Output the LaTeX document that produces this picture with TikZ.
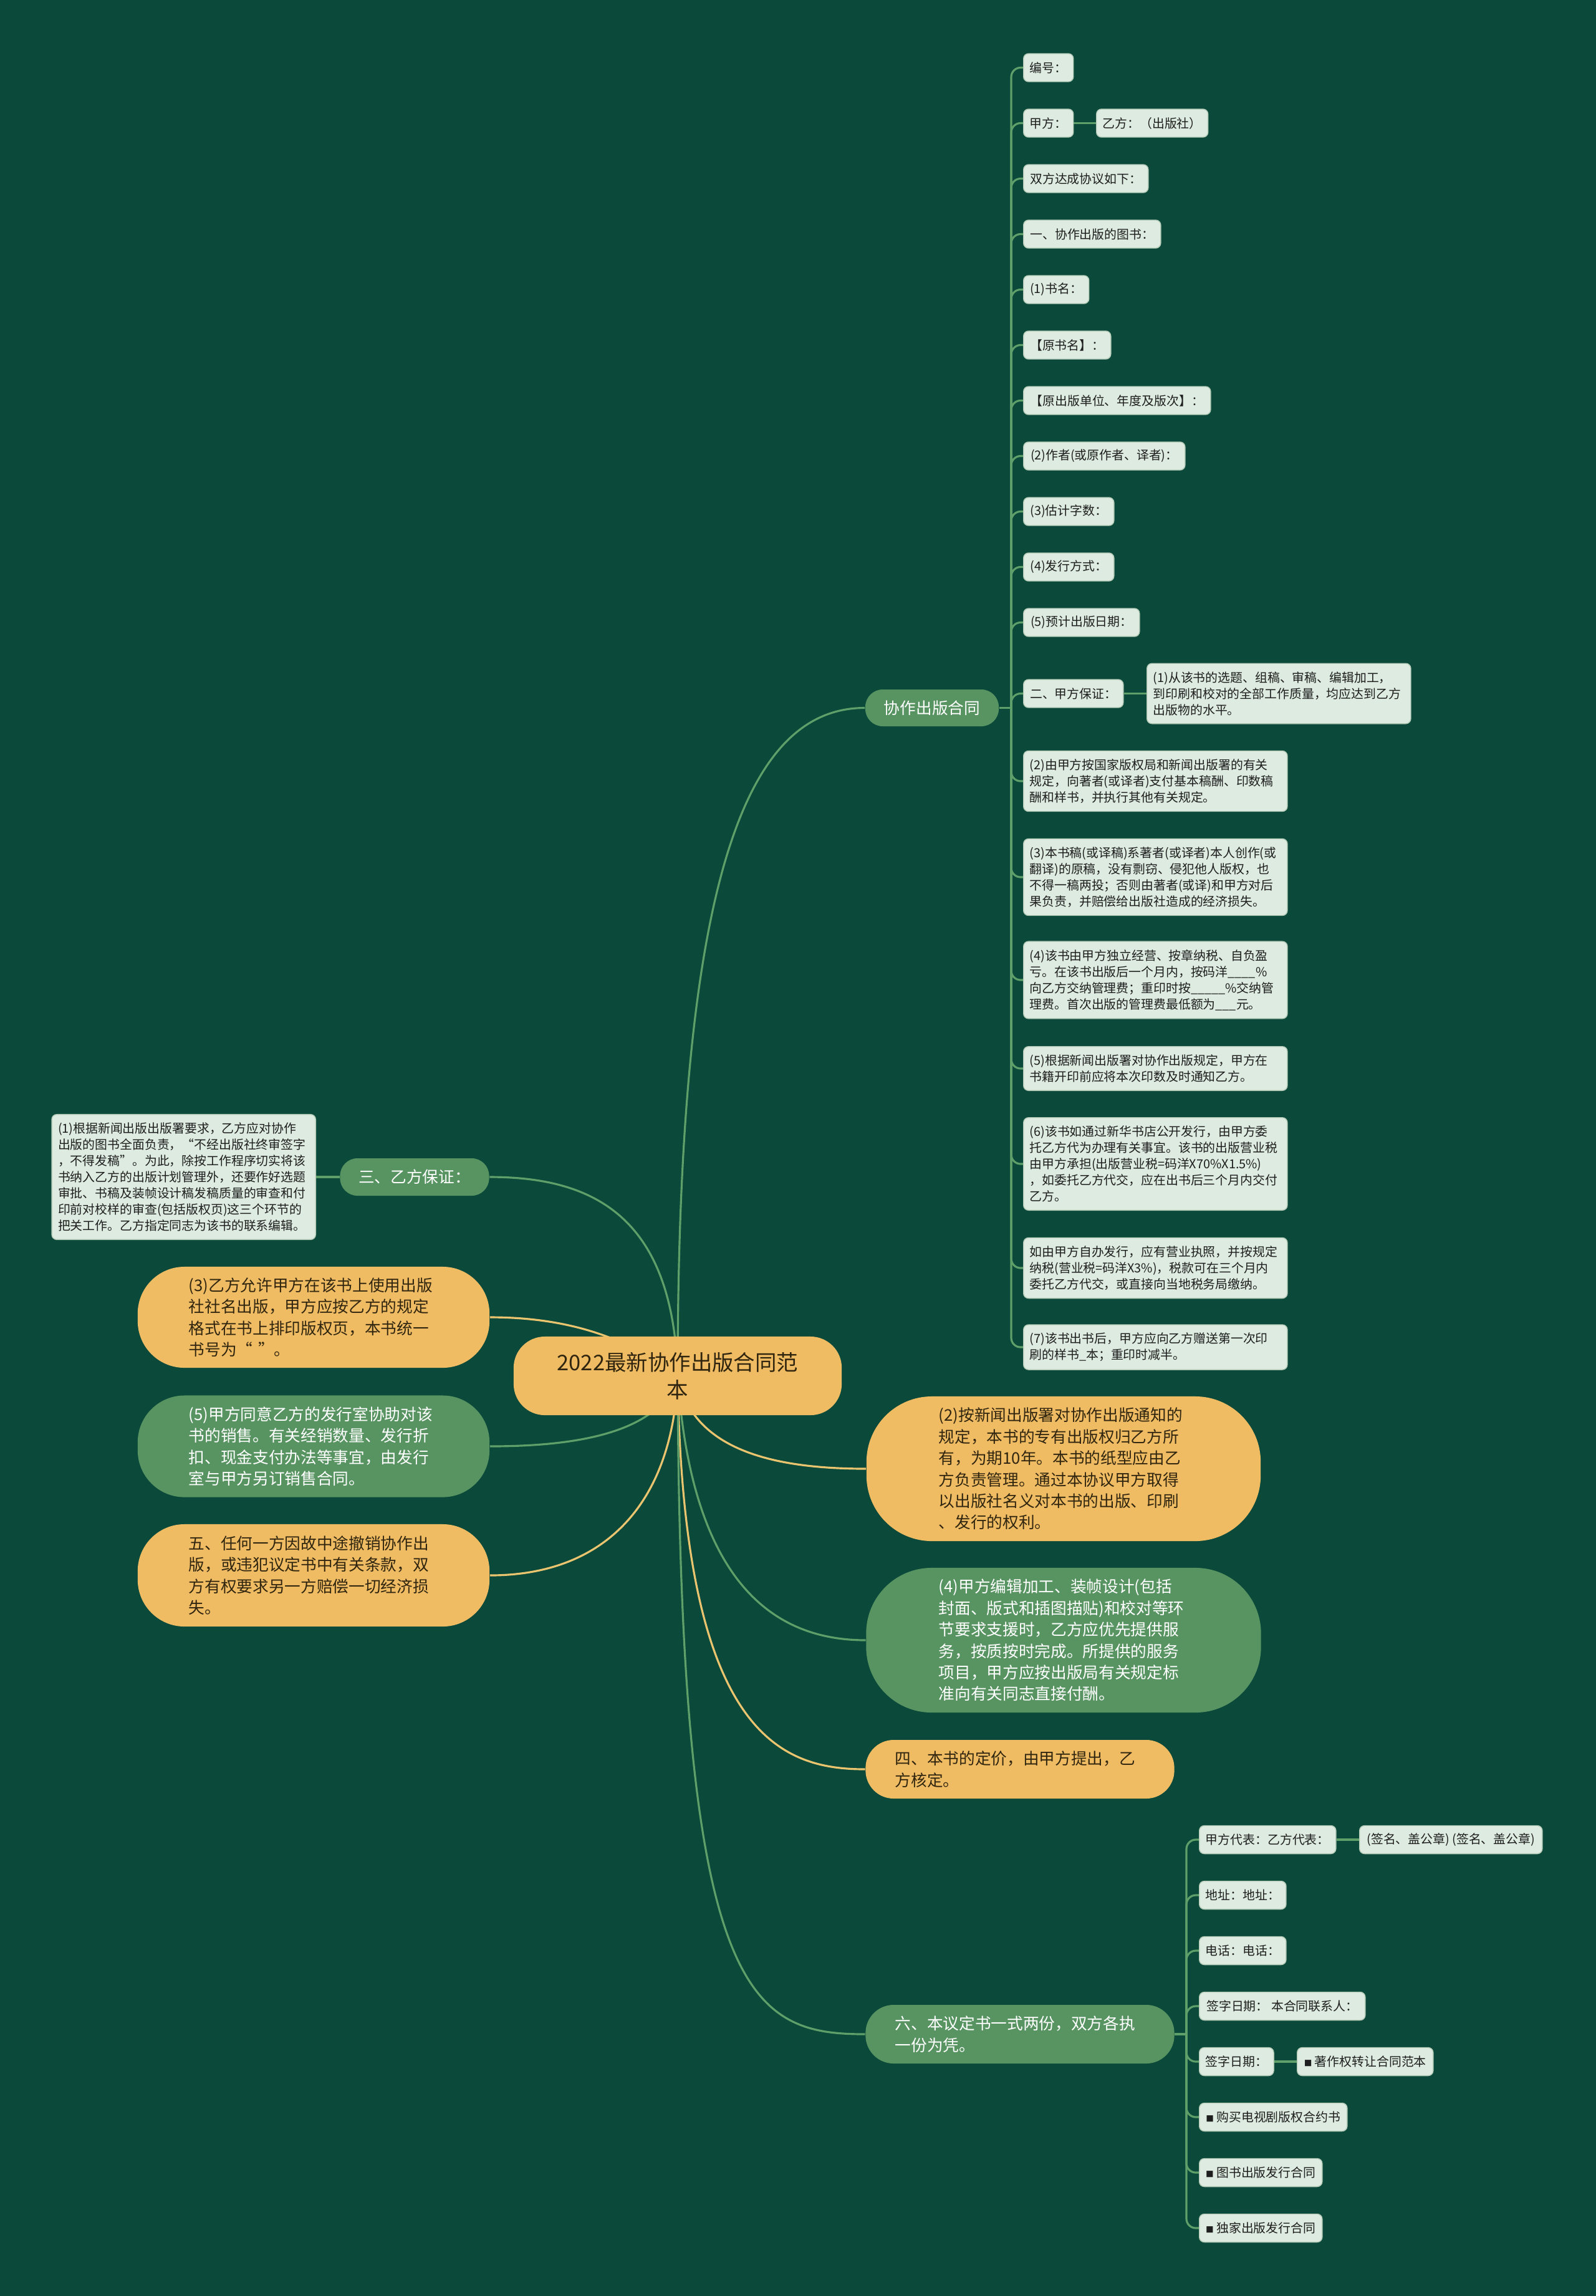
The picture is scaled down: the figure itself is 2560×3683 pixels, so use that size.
\documentclass[tikz,border=0pt]{standalone}
\usepackage{fontspec}
\newfontfamily\cjk{Noto Sans CJK SC}
\definecolor{bgc}{HTML}{0B4A3A}
\definecolor{gfill}{HTML}{579461}
\definecolor{ofill}{HTML}{F0BC63}
\definecolor{lfill}{HTML}{DDEBE0}
\definecolor{lbord}{HTML}{B5CBB8}
\definecolor{glinec}{HTML}{5F9F69}
\definecolor{ylinec}{HTML}{EAC46E}
\definecolor{otext}{HTML}{30250F}
\definecolor{ltext}{HTML}{1E1E1E}
\pgfdeclarelayer{bg}
\pgfsetlayers{bg,main}
\newcommand{\sqb}{{\fontsize{3.6}{3.6}\selectfont■}}
\tikzset{
  sbox/.style={draw=lbord, line width=0.4pt, fill=lfill, rounded corners=0.08cm,
    font=\cjk\fontsize{5.65}{7.4}\selectfont, text=ltext, inner xsep=0.1cm, inner ysep=0pt,
    minimum height=0.45cm, anchor=west},
  mbox/.style={sbox, text width=4.03cm, align=left, inner ysep=0.13cm},
  pillbase/.style={font=\cjk\fontsize{7.3}{9.8}\selectfont, inner sep=0pt},
  obig/.style={pillbase, fill=ofill, text=otext, text width=4.0cm, align=left},
  gbig/.style={pillbase, fill=gfill, text=white, text width=4.0cm, align=left},
  gpill/.style={pillbase, fill=gfill, text=white, align=center},
  rootn/.style={fill=ofill, text=otext, font=\cjk\fontsize{9.8}{12.6}\selectfont, align=center,
    inner sep=0pt, minimum width=5.26cm, minimum height=1.26cm, rounded corners=0.5cm},
  gl/.style={draw=glinec, line width=0.9pt},
  yl/.style={draw=ylinec, line width=0.9pt},
}
\begin{document}
\begin{tikzpicture}[x=0.01cm,y=-0.01cm]
\begin{pgfonlayer}{bg}
\fill[bgc] (0,0) rectangle (2560,3683);
\end{pgfonlayer}
\useasboundingbox (0,0) rectangle (2560,3683);

% root
\node[rootn] (root) at (1087,2207) {2022最新协作出版合同范\\本};

% main branches
\node[gpill, minimum width=2.14cm, minimum height=0.59cm, rounded corners=0.28cm] (xz) at (1495,1135.5) {协作出版合同};
\node[gpill, minimum width=2.39cm, minimum height=0.60cm, rounded corners=0.28cm] (san) at (665,1888) {三、乙方保证：};
\node[obig, minimum width=5.64cm, minimum height=1.62cm, rounded corners=0.75cm] (b3) at (503,2113) {(3)乙方允许甲方在该书上使用出版\\社社名出版，甲方应按乙方的规定\\格式在书上排印版权页，本书统一\\书号为“ ”。};
\node[gbig, minimum width=5.64cm, minimum height=1.63cm, rounded corners=0.75cm] (b5) at (503,2320) {(5)甲方同意乙方的发行室协助对该\\书的销售。有关经销数量、发行折\\扣、现金支付办法等事宜，由发行\\室与甲方另订销售合同。};
\node[obig, minimum width=5.64cm, minimum height=1.64cm, rounded corners=0.75cm] (b5b) at (503,2527) {五、任何一方因故中途撤销协作出\\版，或违犯议定书中有关条款，双\\方有权要求另一方赔偿一切经济损\\失。};
\node[obig, minimum width=6.32cm, minimum height=2.32cm, rounded corners=1.05cm] (b2) at (1706,2356) {(2)按新闻出版署对协作出版通知的\\规定，本书的专有出版权归乙方所\\有，为期10年。本书的纸型应由乙\\方负责管理。通过本协议甲方取得\\以出版社名义对本书的出版、印刷\\、发行的权利。};
\node[gbig, minimum width=6.33cm, minimum height=2.32cm, rounded corners=1.05cm] (b4) at (1706,2631) {(4)甲方编辑加工、装帧设计(包括\\封面、版式和插图描贴)和校对等环\\节要求支援时，乙方应优先提供服\\务，按质按时完成。所提供的服务\\项目，甲方应按出版局有关规定标\\准向有关同志直接付酬。};
\node[obig, minimum width=4.95cm, minimum height=0.94cm, rounded corners=0.45cm] (si) at (1636,2838) {四、本书的定价，由甲方提出，乙\\方核定。};
\node[gbig, minimum width=4.95cm, minimum height=0.94cm, rounded corners=0.45cm] (liu) at (1636,3263) {六、本议定书一式两份，双方各执\\一份为凭。};

% left detail
\node[mbox, anchor=east] (sanc) at (507,1888) {(1)根据新闻出版出版署要求，乙方应对协作\\出版的图书全面负责，“不经出版社终审签字\\，不得发稿”。为此，除按工作程序切实将该\\书纳入乙方的出版计划管理外，还要作好选题\\审批、书稿及装帧设计稿发稿质量的审查和付\\印前对校样的审查(包括版权页)这三个环节的\\把关工作。乙方指定同志为该书的联系编辑。};

% children of 协作出版合同
\node[sbox, minimum width=0.80cm] (a1) at (1641,108.5) {编号：};
\node[sbox, minimum width=0.80cm] (a2) at (1641,197.5) {甲方：};
\node[sbox, minimum width=1.60cm] (a2c) at (1758,197.5) {乙方：（出版社）};
\node[sbox, minimum width=2.00cm] (a3) at (1641,286.5) {双方达成协议如下：};
\node[sbox, minimum width=2.20cm] (a4) at (1641,375.5) {一、协作出版的图书：};
\node[sbox, minimum width=1.05cm] (a5) at (1641,464.5) {(1)书名：};
\node[sbox, minimum width=1.40cm] (a6) at (1641,553.5) {【原书名】：};
\node[sbox, minimum width=3.00cm] (a7) at (1641,642.5) {【原出版单位、年度及版次】：};
\node[sbox, minimum width=2.59cm] (a8) at (1641,731.5) {(2)作者(或原作者、译者)：};
\node[sbox, minimum width=1.45cm] (a9) at (1641,820.5) {(3)估计字数：};
\node[sbox, minimum width=1.45cm] (a10) at (1641,909.5) {(4)发行方式：};
\node[sbox, minimum width=1.86cm] (a11) at (1641,998.5) {(5)预计出版日期：};
\node[sbox, minimum width=1.60cm] (a12) at (1641,1112.5) {二、甲方保证：};
\node[mbox] (a12c) at (1839,1112.5) {(1)从该书的选题、组稿、审稿、编辑加工，\\到印刷和校对的全部工作质量，均应达到乙方\\出版物的水平。};
\node[mbox] (a13) at (1641,1253) {(2)由甲方按国家版权局和新闻出版署的有关\\规定，向著者(或译者)支付基本稿酬、印数稿\\酬和样书，并执行其他有关规定。};
\node[mbox] (a14) at (1641,1407) {(3)本书稿(或译稿)系著者(或译者)本人创作(或\\翻译)的原稿，没有剽窃、侵犯他人版权，也\\不得一稿两投；否则由著者(或译)和甲方对后\\果负责，并赔偿给出版社造成的经济损失。};
\node[mbox] (a15) at (1641,1572) {(4)该书由甲方独立经营、按章纳税、自负盈\\亏。在该书出版后一个月内，按码洋\_\_\_\_\%\\向乙方交纳管理费；重印时按\_\_\_\_\_\%交纳管\\理费。首次出版的管理费最低额为\_\_\_元。};
\node[mbox] (a16) at (1641,1714) {(5)根据新闻出版署对协作出版规定，甲方在\\书籍开印前应将本次印数及时通知乙方。};
\node[mbox] (a17) at (1641,1867) {(6)该书如通过新华书店公开发行，由甲方委\\托乙方代为办理有关事宜。该书的出版营业税\\由甲方承担(出版营业税=码洋X70\%X1.5\%)\\，如委托乙方代交，应在出书后三个月内交付\\乙方。};
\node[mbox] (a18) at (1641,2034) {如由甲方自办发行，应有营业执照，并按规定\\纳税(营业税=码洋X3\%)，税款可在三个月内\\委托乙方代交，或直接向当地税务局缴纳。};
\node[mbox] (a19) at (1641,2161) {(7)该书出书后，甲方应向乙方赠送第一次印\\刷的样书\_本；重印时减半。};

% children of 六
\node[sbox, minimum width=2.19cm] (c1) at (1923,2951) {甲方代表：乙方代表：};
\node[sbox, minimum width=2.93cm] (c1c) at (2180,2951) {(签名、盖公章) (签名、盖公章)};
\node[sbox, minimum width=1.39cm] (c2) at (1923,3040) {地址：地址：};
\node[sbox, minimum width=1.39cm] (c3) at (1923,3129) {电话：电话：};
\node[sbox, minimum width=2.66cm] (c4) at (1923,3218) {签字日期： 本合同联系人：};
\node[sbox, minimum width=1.19cm] (c5) at (1923,3307) {签字日期：};
\node[sbox, minimum width=2.18cm] (c5c) at (2080,3307) {\sqb\ 著作权转让合同范本};
\node[sbox, minimum width=2.37cm] (c6) at (1923,3396) {\sqb\ 购买电视剧版权合约书};
\node[sbox, minimum width=1.97cm] (c7) at (1923,3485) {\sqb\ 图书出版发行合同};
\node[sbox, minimum width=1.97cm] (c8) at (1923,3574) {\sqb\ 独家出版发行合同};

\begin{pgfonlayer}{bg}
% root connectors
\draw[gl] (root.center) .. controls (1087,1400) and (1200,1135.5) .. (xz.west);
\draw[gl] (root.center) .. controls (1080,1950) and (950,1888) .. (san.east);
\draw[yl] (root.center) .. controls (1000,2140) and (900,2113) .. (b3.east);
\draw[gl] (root.center) .. controls (1060,2300) and (920,2320) .. (b5.east);
\draw[yl] (root.center) .. controls (1080,2400) and (980,2527) .. (b5b.east);
\draw[yl] (root.center) .. controls (1110,2330) and (1250,2356) .. (b2.west);
\draw[gl] (root.center) .. controls (1110,2550) and (1250,2631) .. (b4.west);
\draw[yl] (root.center) .. controls (1095,2780) and (1250,2838) .. (si.west);
\draw[gl] (root.center) .. controls (1090,3200) and (1200,3263) .. (liu.west);
% 三 detail
\draw[gl] (san.west) -- (sanc.east);
% 协作出版合同 list
\draw[gl] (xz.east) -- (1622,1135.5);
\foreach \n in {a1,a2,a3,a4,a5,a6,a7,a8,a9,a10,a11,a12,a13,a14,a15,a16,a17,a18,a19}
  \draw[gl, rounded corners=0.15cm] (1622,1135.5) |- (\n.west);
\draw[gl] (a2.east) -- (a2c.west);
\draw[gl] (a12.east) -- (a12c.west);
% 六 list
\draw[gl] (liu.east) -- (1903,3263);
\foreach \n in {c1,c2,c3,c4,c5,c6,c7,c8}
  \draw[gl, rounded corners=0.15cm] (1903,3263) |- (\n.west);
\draw[gl] (c1.east) -- (c1c.west);
\draw[gl] (c5.east) -- (c5c.west);
\end{pgfonlayer}
\end{tikzpicture}
\end{document}
